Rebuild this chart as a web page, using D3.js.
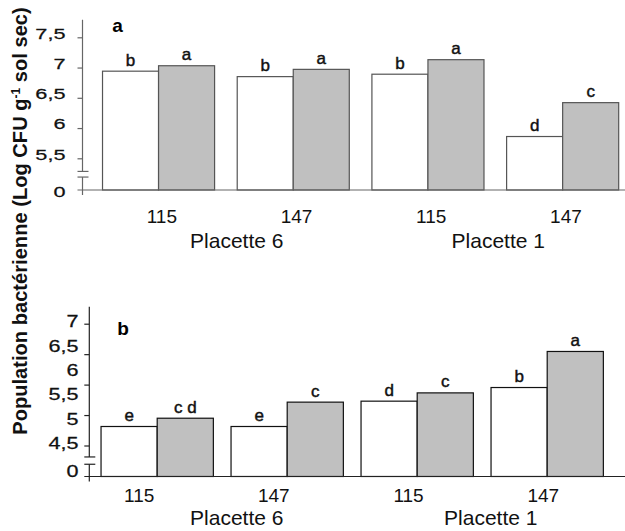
<!DOCTYPE html>
<html><head><meta charset="utf-8">
<script src="https://cdn.jsdelivr.net/npm/d3@7"></script>
<style>
body{margin:0;background:#fff}
svg{display:block}
text{font-family:"Liberation Sans",Arial,Helvetica,sans-serif}
</style>
</head><body>
<svg id="chart" width="625" height="531"></svg>
<script>
// ---------------- data ----------------
const categories = ["P6-115", "P6-147", "P1-115", "P1-147"];
const dayLabels = ["115", "147", "115", "147"];
const siteLabels = ["Placette 6", "Placette 1"];

const panelAWhite = [6.94, 6.85, 6.89, 5.86];
const panelAGrey  = [7.03, 6.97, 7.13, 6.42];
const panelALettersWhite = ["b", "b", "b", "d"];
const panelALettersGrey  = ["a", "a", "a", "c"];
const panelATicks = [7.5, 7, 6.5, 6, 5.5];
const panelATickLabels = [7.5, 7, 6.5, 6, 5.5];

const panelBWhite = [4.89, 4.89, 5.41, 5.69];
const panelBGrey  = [5.06, 5.39, 5.58, 6.43];
const panelBLettersWhite = ["e", "e", "d", "b"];
const panelBLettersGrey  = ["c d", "c", "c", "a"];
const panelBTicks = [4.5, 5.125, 5.75, 6.375, 7];
const panelBTickLabels = [7, 6.5, 6, 5.5, 5, 4.5];

const yTitle = "Population bactérienne (Log CFU g";
const yTitleSup = "-1";
const yTitleEnd = " sol sec)";

// ---------------- drawing ----------------
const svg = d3.select("#chart");
const fmt = v => String(v).replace(".", ",");

function drawPanel(cfg) {
  const g = svg.append("g");
  const y = d3.scaleLinear().domain(cfg.yDomain).range(cfg.yRange);
  const x = d3.scaleBand().domain(categories).range(cfg.xRange)
    .paddingInner(cfg.pad).paddingOuter(cfg.pad / 2);
  const xl = d3.scaleBand().domain(categories).range(cfg.labelRange)
    .paddingInner(cfg.pad).paddingOuter(cfg.pad / 2);
  const xs = d3.scaleBand().domain(siteLabels).range(cfg.siteRange);
  const base = y(cfg.baseValue);
  const bw = x.bandwidth() / 2;

  const rows = categories.map((c, i) => ({
    c, w: cfg.white[i], g: cfg.grey[i], lw: cfg.lettersWhite[i], lg: cfg.lettersGrey[i], day: dayLabels[i]
  }));

  // bars
  g.selectAll("rect.w").data(rows).join("rect")
    .attr("x", d => x(d.c)).attr("y", d => y(d.w))
    .attr("width", bw).attr("height", d => base - y(d.w))
    .attr("fill", "#ffffff").attr("stroke", cfg.stroke).attr("stroke-width", 1.2);
  g.selectAll("rect.g").data(rows).join("rect")
    .attr("x", d => x(d.c) + bw).attr("y", d => y(d.g))
    .attr("width", bw).attr("height", d => base - y(d.g))
    .attr("fill", "#c0c0c0").attr("stroke", cfg.stroke).attr("stroke-width", 1.2);

  // significance letters
  const letterStyle = sel => sel.attr("text-anchor", "middle").attr("font-size", 17)
    .attr("fill", "#111").attr("stroke", "#111").attr("stroke-width", 0.45);
  g.selectAll("text.lw").data(rows).join("text")
    .attr("x", d => x(d.c) + bw / 2).attr("y", d => y(d.w) - 5.5)
    .call(letterStyle).text(d => d.lw);
  g.selectAll("text.lg").data(rows).join("text")
    .attr("x", d => x(d.c) + bw * 1.5).attr("y", d => y(d.g) - 5.5)
    .call(letterStyle).text(d => d.lg);

  // y axis ticks
  const ax = g.append("g").attr("transform", `translate(${cfg.axisX},0)`)
    .call(d3.axisLeft(y).tickValues(cfg.ticks).tickSize(5).tickFormat(""));
  ax.select(".domain").remove();
  ax.selectAll("line").attr("stroke", cfg.axisColor).attr("stroke-width", 1.2);

  // axis line with break
  const b1 = y(cfg.break1), b2 = y(cfg.break2);
  const ln = (x1, y1, x2, y2) => g.append("line")
    .attr("x1", x1).attr("y1", y1).attr("x2", x2).attr("y2", y2)
    .attr("stroke", cfg.axisColor).attr("stroke-width", 1.2);
  ln(cfg.axisX, y(cfg.yTop), cfg.axisX, b1);
  ln(cfg.axisX, b2, cfg.axisX, base + 5);
  ln(cfg.axisX - 5, b1, cfg.axisX + 6, b1);
  ln(cfg.axisX - 5, b2, cfg.axisX + 6, b2);
  ln(cfg.axisX - 5, base, 625, base);

  // tick labels (stretched horizontally like the original)
  const labs = g.selectAll("g.tl").data(cfg.tickLabels).join("g")
    .attr("transform", v => `translate(${cfg.labelX},${y(v) + cfg.labelDy})`);
  labs.append("text").attr("transform", `scale(${cfg.labelStretch},1)`)
    .attr("text-anchor", "end").attr("dy", "0.35em")
    .attr("font-size", cfg.labelSize).attr("fill", "#111")
    .attr("stroke", "#111").attr("stroke-width", 0.25)
    .text(fmt);
  g.append("g").attr("transform", `translate(${cfg.labelX},${base + cfg.zeroDy})`)
    .append("text").attr("transform", `scale(${cfg.labelStretch},1)`)
    .attr("text-anchor", "end").attr("dy", "0.35em")
    .attr("font-size", cfg.labelSize).attr("fill", "#111")
    .attr("stroke", "#111").attr("stroke-width", 0.25).text("0");

  // panel letter
  g.append("text").attr("x", cfg.panelX).attr("y", y(cfg.panelY))
    .attr("text-anchor", "middle").attr("font-size", 19).attr("font-weight", "bold")
    .text(cfg.panel);

  // category labels
  g.selectAll("text.day").data(rows).join("text")
    .attr("x", d => xl(d.c) + xl.bandwidth() / 2).attr("y", base + cfg.dayDy)
    .attr("text-anchor", "middle").attr("font-size", 19).attr("fill", "#111")
    .text(d => d.day);
  g.selectAll("text.site").data(siteLabels).join("text")
    .attr("x", d => xs(d) + xs.bandwidth() / 2).attr("y", base + cfg.siteDy)
    .attr("text-anchor", "middle").attr("font-size", 21).attr("fill", "#111")
    .text(d => d);
}

drawPanel({
  panel: "a", panelX: 117.5, panelY: 7.58,
  white: panelAWhite, grey: panelAGrey,
  lettersWhite: panelALettersWhite, lettersGrey: panelALettersGrey,
  ticks: panelATicks, tickLabels: panelATickLabels,
  yDomain: [5.5, 7.5], yRange: [158.3, 37.3], baseValue: 4.976, yTop: 7.79,
  break1: 5.283, break2: 5.19,
  xRange: [91.2, 630], labelRange: [94.5, 633.3], siteRange: [106, 629],
  pad: 0.168, axisX: 82.5, stroke: "#555", axisColor: "#666",
  labelX: 65.5, labelDy: -4, zeroDy: 1.5, labelSize: 15.5, labelStretch: 1.4,
  dayDy: 33.3, siteDy: 58
});

drawPanel({
  panel: "b", panelX: 123, panelY: 6.76,
  white: panelBWhite, grey: panelBGrey,
  lettersWhite: panelBLettersWhite, lettersGrey: panelBLettersGrey,
  ticks: panelBTicks, tickLabels: panelBTickLabels,
  yDomain: [4.5, 7], yRange: [445.5, 323.7], baseValue: 3.864, yTop: 7.35,
  break1: 4.265, break2: 4.115,
  xRange: [92.2, 612.2], labelRange: [71.8, 610.6], siteRange: [109.8, 617.8],
  pad: 0.136, axisX: 89.3, stroke: "#111", axisColor: "#222",
  labelX: 78.5, labelDy: -2, zeroDy: -5.5, labelSize: 16, labelStretch: 1.35,
  dayDy: 25.3, siteDy: 48.5
});

// y title
const t = svg.append("text")
  .attr("transform", "translate(27,221) rotate(-90)")
  .attr("text-anchor", "middle").attr("font-weight", "bold").attr("font-size", 18)
  .attr("fill", "#111");
t.append("tspan").text(yTitle);
t.append("tspan").attr("font-size", 11).attr("dy", -7).text(yTitleSup);
t.append("tspan").attr("dy", 7).text(yTitleEnd);
const len = t.node().getComputedTextLength();
const fs = 18 * 428 / len;
t.attr("font-size", fs);
t.selectAll("tspan").filter((d, i) => i === 1).attr("font-size", fs * 0.6);
</script>
</body></html>
